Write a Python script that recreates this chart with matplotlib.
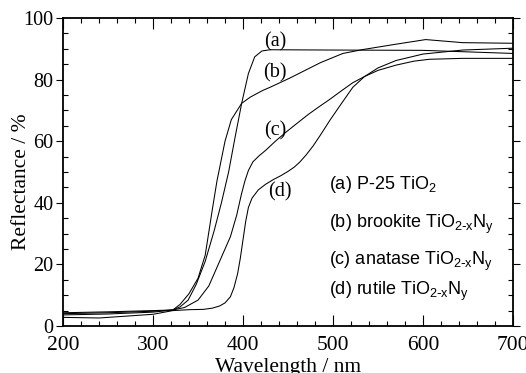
import matplotlib.pyplot as plt
from matplotlib.ticker import MultipleLocator

plt.rcParams['font.family'] = 'Liberation Serif'
plt.rcParams['mathtext.default'] = 'regular'

# (a) P-25 TiO2
wl_a = [200, 250, 300, 322, 330, 339, 348, 358, 368, 376, 384, 391, 398.5, 406, 413, 421, 430, 500, 600, 650, 700]
r_a = [4.0, 4.3, 4.8, 5.2, 6.2, 8.4, 13.5, 21, 31, 40, 50, 61, 72.3, 82, 87.4, 89.3, 89.7, 89.6, 89.5, 89.0, 88.5]

# (b) brookite
wl_b = [200, 250, 300, 322, 330, 340, 350, 358, 366, 371, 380, 387, 398.5, 408, 422, 430, 452, 486, 511, 534, 570, 603, 644, 700]
r_b = [4.3, 4.6, 5.0, 5.2, 7.0, 10.5, 15.5, 23, 38, 47, 60, 67, 72.3, 74.3, 76.5, 77.5, 80.5, 85.5, 88.5, 89.8, 91.5, 93.0, 92.0, 91.8]

# (c) anatase
wl_c = [200, 250, 300, 322, 335, 350, 362, 374, 386, 393, 398, 402, 406, 411, 418, 425, 436, 448, 460, 473, 486,
        496, 510, 522, 535, 550, 570, 590, 607, 644, 700]
r_c = [3.6, 3.9, 4.5, 5.2, 6.0, 8.4, 13, 21, 29, 36, 42.5, 47, 50.5, 53.3, 55.3, 57, 60, 63, 65.8, 68.8, 71.5,
       73.5, 76.5, 79, 81, 83, 84.7, 86, 86.6, 86.9, 86.9]

# (d) rutile
wl_d = [200, 240, 300, 322, 340, 356, 366, 374, 380, 386, 390, 394, 397, 400, 403, 406, 410, 417, 425, 434, 442,
        450, 457, 463, 470, 478, 486, 497, 510, 522, 535, 550, 570, 600, 644, 700]
r_d = [2.8, 2.6, 3.8, 5.0, 5.3, 5.4, 5.8, 6.5, 7.5, 9.5, 12.5, 17, 22, 28, 34, 38.5, 41.5, 44.2, 46, 47.6, 48.8,
       50.2, 51.6, 53.2, 55.5, 58.5, 62, 67, 72.5, 77.5, 81, 83.8, 86.2, 88.3, 89.6, 90.2]

labels = ['(a)', '(b)', '(c)', '(d)']
label_x = [435.6, 435.6, 435.6, 441]
label_y = [92.4, 82.1, 63.2, 43.6]

legend_lines = [r'(a) P-25 TiO$_2$',
                r'(b) brookite TiO$_{2\text{-}x}$N$_y$',
                r'(c) anatase TiO$_{2\text{-}x}$N$_y$',
                r'(d) rutile TiO$_{2\text{-}x}$N$_y$']
legend_y = [45.8, 33.0, 21.1, 11.2]

fig = plt.figure(figsize=(5.26, 3.73), dpi=100)
ax = fig.add_axes([0.1198, 0.126, 0.8555, 0.8257])

for wl, r in [(wl_a, r_a), (wl_b, r_b), (wl_c, r_c), (wl_d, r_d)]:
    ax.plot(wl, r, color='black', lw=0.75)

for t, x, y in zip(labels, label_x, label_y):
    ax.text(x, y, t, fontsize=14.5, ha='center', va='center')

for t, y in zip(legend_lines, legend_y):
    ax.text(496, y, t, fontsize=13, family='Liberation Sans', ha='left', va='center')

ax.set_xlim(200, 700)
ax.set_ylim(0, 100)
ax.xaxis.set_major_locator(MultipleLocator(100))
ax.xaxis.set_minor_locator(MultipleLocator(20))
ax.yaxis.set_major_locator(MultipleLocator(20))
ax.yaxis.set_minor_locator(MultipleLocator(5))
ax.tick_params(which='both', top=True, right=True, direction='in')
ax.tick_params(which='major', length=8, width=0.8)
ax.tick_params(which='minor', length=3.5, width=0.8)
ax.tick_params(axis='x', which='major', labelsize=15.5, pad=7)
ax.tick_params(axis='y', which='major', labelsize=14.5, left=True, direction='out', length=5, pad=2)
ax.tick_params(axis='y', which='major', right=True)
for s in ax.spines.values():
    s.set_linewidth(1.3)

ax.set_xlabel('Wavelength / nm', fontsize=15.5, labelpad=2)
ax.set_ylabel('Reflectance / %', fontsize=15.5, labelpad=2)
ax.yaxis.set_label_coords(-0.072, 0.467)

fig.savefig('out.png', dpi=100)
